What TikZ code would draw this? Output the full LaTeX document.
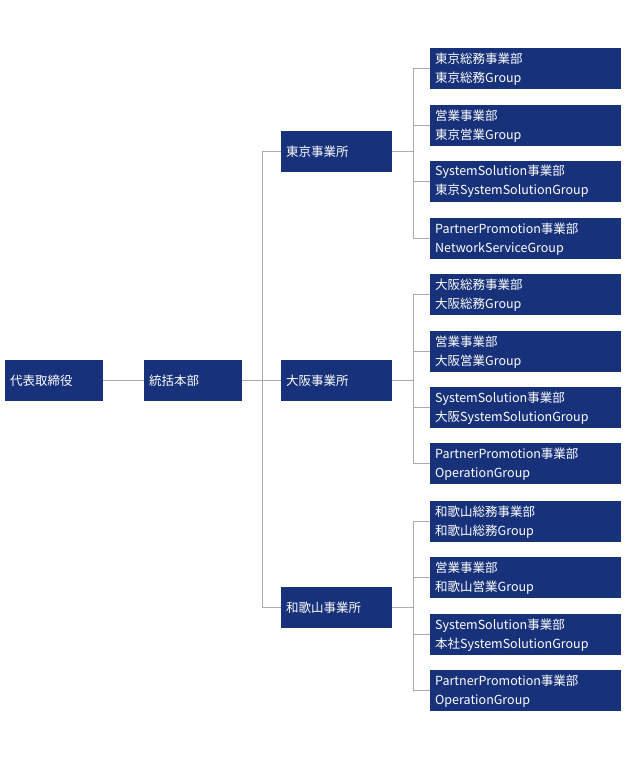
\documentclass[tikz,border=0pt]{standalone}
\usepackage{fontspec}
\setmainfont{Noto Sans CJK JP}
\definecolor{navy}{HTML}{17317A}
\definecolor{linegray}{HTML}{AAAAAA}
\tikzset{
  box/.style={fill=navy, text=white, anchor=north west, minimum height=41pt, inner xsep=5pt, font=\fontsize{12.5}{19}\selectfont},
  topbox/.style={box, minimum width=98pt, text width=88pt, align=left},
  unitbox/.style={box, minimum width=191pt, text width=181pt, align=left},
  link/.style={draw=linegray, line width=1pt}
}
\begin{document}
\begin{tikzpicture}[x=1pt,y=-1pt]
	\useasboundingbox (0,0) rectangle (628,761);
	\node[topbox] (ceo) at (5,360) {代表取締役};
	\node[topbox] (hq) at (144,360) {統括本部};
	\node[topbox, minimum width=111pt, text width=101pt] (tokyo) at (281,131) {東京事業所};
	\node[topbox, minimum width=111pt, text width=101pt] (osaka) at (281,360) {大阪事業所};
	\node[topbox, minimum width=111pt, text width=101pt] (waka) at (281,587) {和歌山事業所};
	% Tokyo units
	\node[unitbox] (t1) at (430,48) {東京総務事業部\\東京総務Group};
	\node[unitbox] (t2) at (430,105) {営業事業部\\東京営業Group};
	\node[unitbox] (t3) at (430,161) {SystemSolution事業部\\東京SystemSolutionGroup};
	\node[unitbox] (t4) at (430,218) {PartnerPromotion事業部\\NetworkServiceGroup};
	% Osaka units
	\node[unitbox] (o1) at (430,274) {大阪総務事業部\\大阪総務Group};
	\node[unitbox] (o2) at (430,331) {営業事業部\\大阪営業Group};
	\node[unitbox] (o3) at (430,387) {SystemSolution事業部\\大阪SystemSolutionGroup};
	\node[unitbox] (o4) at (430,443) {PartnerPromotion事業部\\OperationGroup};
	% Wakayama units
	\node[unitbox] (w1) at (430,501) {和歌山総務事業部\\和歌山総務Group};
	\node[unitbox] (w2) at (430,557) {営業事業部\\和歌山営業Group};
	\node[unitbox] (w3) at (430,614) {SystemSolution事業部\\本社SystemSolutionGroup};
	\node[unitbox] (w4) at (430,670) {PartnerPromotion事業部\\OperationGroup};
	% connectors
	\draw[link] (ceo) -- (hq);
	\draw[link] (hq.east) -- (osaka.west);
	\coordinate (trunk) at (262,0);
	\draw[link] (trunk |- tokyo) -- (trunk |- waka);
	\draw[link] (trunk |- tokyo) -- (tokyo);
	\draw[link] (trunk |- waka) -- (waka);
	\coordinate (branch) at (413,0);
	\foreach \o/\u in {tokyo/t, osaka/o, waka/w}{
		\draw[link] (\o) -- (branch |- \o);
		\draw[link] (branch |- \u1) -- (branch |- \u4);
		\foreach \i in {1,...,4}
			\draw[link] (branch |- \u\i) -- (\u\i);
	}
\end{tikzpicture}
\end{document}
